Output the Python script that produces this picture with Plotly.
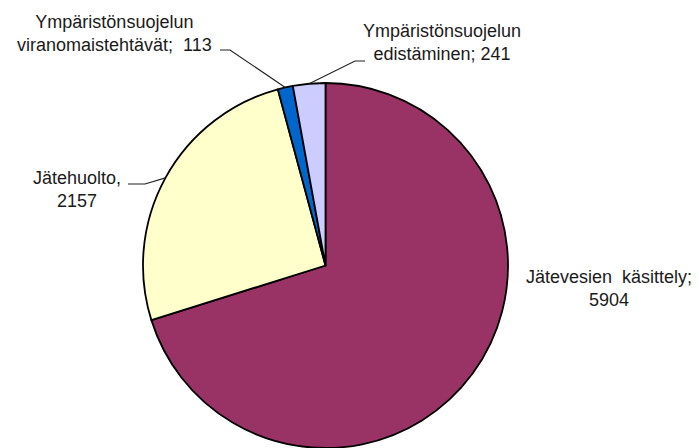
import math
import plotly.graph_objects as go

# ---- data ----
categories = [
    "Jätevesien käsittely",
    "Jätehuolto",
    "Ympäristönsuojelun viranomaistehtävät",
    "Ympäristönsuojelun edistäminen",
]
values = [5904, 2157, 113, 241]
label_texts = [
    "Jätevesien  käsittely;<br>5904",
    "Jätehuolto,<br>2157",
    "Ympäristönsuojelun<br>viranomaistehtävät;  113",
    "Ympäristönsuojelun<br>edistäminen; 241",
]
colors = ["#993366", "#FFFFCC", "#0066CC", "#CCCCFF"]

# ---- layout geometry (pixels) ----
W, H = 699, 448
CX, CY, R = 325.5, 265.5, 182.5
dom_x = [(CX - R) / W, (CX + R) / W]
dom_y = [(H - CY - R) / H, (H - CY + R) / H]

# label centres (pixels) and leader elbows
label_pos = [(609, 288), (77, 189), (114, 33), (442, 42)]
leader_elbow = [None, [(128, 184), (145, 184)], [(220, 50), (230, 50)], [(365, 61), (355, 61)]]

def px(x, y):
    return x / W, 1 - y / H

fig = go.Figure()
fig.add_trace(go.Pie(
    labels=categories, values=values, sort=False, direction="clockwise",
    rotation=0, textinfo="none", hoverinfo="label+value",
    marker=dict(colors=colors, line=dict(color="#000000", width=1.8)),
    domain=dict(x=dom_x, y=dom_y), showlegend=False,
))

total = sum(values)
cum = 0
annotations = []
shapes = []
for i, v in enumerate(values):
    mid = (cum + v / 2) / total * 2 * math.pi
    cum += v
    ax = CX + R * math.sin(mid)
    ay = CY - R * math.cos(mid)
    lx, ly = label_pos[i]
    fx, fy = px(lx, ly)
    annotations.append(dict(
        x=fx, y=fy, xref="paper", yref="paper", text=label_texts[i],
        showarrow=False, xanchor="center", yanchor="middle", align="center",
        font=dict(family="Liberation Sans, Arial, sans-serif", size=18, color="#1a1a1a"),
    ))
    if leader_elbow[i]:
        pts = leader_elbow[i] + [(ax, ay)]
        path = "M " + " L ".join(f"{px(x, y)[0]},{px(x, y)[1]}" for x, y in pts)
        shapes.append(dict(type="path", path=path, xref="paper", yref="paper",
                           line=dict(color="#222222", width=1.2)))

fig.update_layout(
    width=W, height=H, margin=dict(l=0, r=0, t=0, b=0),
    paper_bgcolor="white", plot_bgcolor="white",
    annotations=annotations, shapes=shapes,
)
fig.write_html("out.html", config={"displayModeBar": False},
               post_script="document.body.style.margin='0';document.body.style.overflow='hidden';")
